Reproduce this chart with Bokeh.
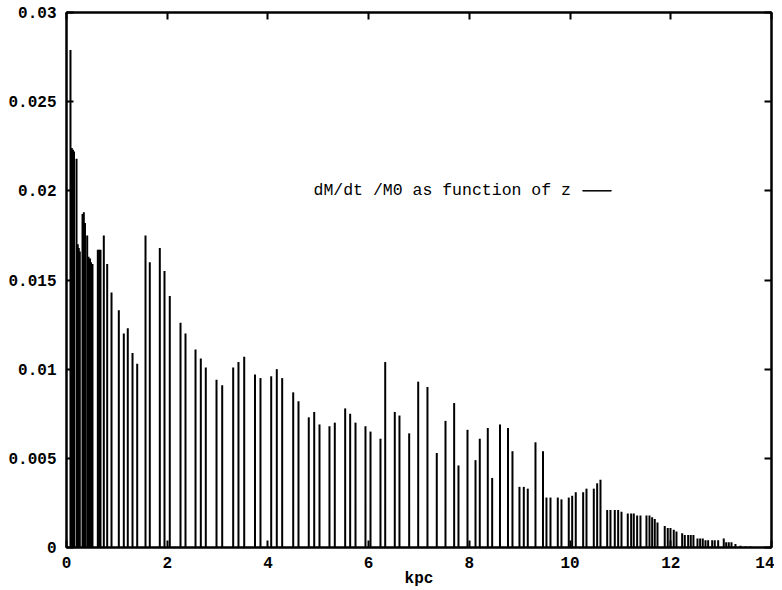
from bokeh.plotting import figure
from bokeh.models import (Range1d, FixedTicker, LinearAxis, CustomJSTickFormatter,
                          CustomLabelingPolicy, Label, BoxAnnotation, ColumnDataSource)
from bokeh.embed import file_html
from bokeh.resources import INLINE

# ---- data ----
kpc = [0.079, 0.105, 0.129, 0.149, 0.199, 0.224, 0.244, 0.264, 0.318, 0.344,
       0.367, 0.411, 0.437, 0.467, 0.487, 0.516, 0.622, 0.649, 0.675, 0.741,
       0.808, 0.894, 1.039, 1.138, 1.217, 1.311, 1.404, 1.569, 1.654, 1.853,
       1.946, 2.051, 2.264, 2.363, 2.562, 2.667, 2.766, 2.979, 3.092, 3.310,
       3.415, 3.529, 3.743, 3.852, 4.065, 4.176, 4.283, 4.502, 4.607, 4.811,
       4.919, 5.024, 5.222, 5.328, 5.534, 5.633, 5.739, 5.937, 6.037, 6.235,
       6.329, 6.519, 6.612, 6.805, 6.984, 7.168, 7.353, 7.526, 7.698, 7.784,
       7.963, 8.122, 8.207, 8.366, 8.453, 8.608, 8.767, 8.856, 8.995, 9.081,
       9.160, 9.313, 9.462, 9.531, 9.611, 9.756, 9.829, 9.974, 10.042, 10.113,
       10.260, 10.326, 10.471, 10.538, 10.604, 10.737, 10.802, 10.888, 10.955, 11.021,
       11.146, 11.213, 11.265, 11.332, 11.398, 11.517, 11.577, 11.630, 11.682, 11.736,
       11.880, 11.940, 11.994, 12.059, 12.113, 12.226, 12.278, 12.345, 12.397, 12.450,
       12.530, 12.583, 12.635, 12.689, 12.742, 12.822, 12.873, 12.941, 13.052, 13.100,
       13.151, 13.205, 13.284, 13.384, 13.483, 13.582, 13.681]

dmdt_m0 = [0.0279, 0.0224, 0.0223, 0.0222, 0.0218, 0.0170, 0.0168, 0.0166, 0.0187, 0.0188,
           0.0182, 0.0175, 0.0163, 0.0162, 0.0160, 0.0159, 0.0167, 0.0167, 0.0167, 0.0175,
           0.0159, 0.0143, 0.0133, 0.0120, 0.0123, 0.0109, 0.0103, 0.0175, 0.0160, 0.0168,
           0.0155, 0.0141, 0.0126, 0.0120, 0.0111, 0.0106, 0.0101, 0.0094, 0.0091, 0.0101,
           0.0104, 0.0107, 0.0097, 0.0095, 0.0096, 0.0100, 0.0095, 0.0087, 0.0082, 0.0073,
           0.0076, 0.0069, 0.0068, 0.0070, 0.0078, 0.0075, 0.0070, 0.0068, 0.0065, 0.0061,
           0.0104, 0.0076, 0.0074, 0.0064, 0.0093, 0.0090, 0.0053, 0.0071, 0.0081, 0.0046,
           0.0066, 0.0049, 0.0061, 0.0067, 0.0039, 0.0069, 0.0067, 0.0054, 0.0034, 0.0034,
           0.0033, 0.0059, 0.0054, 0.0028, 0.0028, 0.0028, 0.0027, 0.0028, 0.0029, 0.0031,
           0.0031, 0.0033, 0.0033, 0.0036, 0.0038, 0.0021, 0.0021, 0.0021, 0.0021, 0.0020,
           0.0019, 0.0019, 0.0019, 0.0018, 0.0018, 0.0018, 0.0018, 0.0017, 0.0016, 0.0014,
           0.0012, 0.0011, 0.0011, 0.0010, 0.0009, 0.0008, 0.0007, 0.0007, 0.0007, 0.0007,
           0.0005, 0.0005, 0.0005, 0.0004, 0.0004, 0.0004, 0.0004, 0.0004, 0.0005, 0.0003,
           0.0003, 0.0003, 0.0002, 0.0001, 0.00005, 0.00005, 0.00003]

x_ticks = [0, 2, 4, 6, 8, 10, 12, 14]
y_ticks = [0, 0.005, 0.01, 0.015, 0.02, 0.025, 0.03]
x_label = "kpc"
legend_text = "dM/dt /M0 as function of z"

FONT = "Liberation Mono"

p = figure(width=774, height=590, output_backend="svg", toolbar_location=None,
           x_range=Range1d(0, 14), y_range=Range1d(0, 0.03),
           min_border_left=66, min_border_right=3, min_border_top=12,
           min_border_bottom=43, x_axis_label=x_label)
p.grid.visible = False
p.outline_line_color = "black"
p.outline_line_width = 2
p.background_fill_color = "white"
p.border_fill_color = "white"

src = ColumnDataSource(dict(x=kpc, y=dmdt_m0, y0=[0] * len(kpc)))
p.segment(x0="x", y0="y0", x1="x", y1="y", source=src,
          line_color="black", line_width=2)

fmt = CustomJSTickFormatter(code="""
let s = tick.toFixed(3);
s = s.replace(/0+$/, '').replace(/\\.$/, '');
return s;
""")
no_labels = CustomLabelingPolicy(code="return new Set()")
blank_fmt = CustomJSTickFormatter(code="return ''")

def style(ax, ticks, show_labels):
    ax.ticker = FixedTicker(ticks=ticks)
    ax.axis_line_color = "black"
    ax.axis_line_width = 2
    ax.major_tick_in = 7
    ax.major_tick_out = 0
    ax.major_tick_line_width = 2
    ax.minor_tick_line_color = None
    if show_labels:
        ax.major_label_text_font = FONT
        ax.major_label_text_font_style = "bold"
        ax.major_label_text_font_size = "16px"
        ax.major_label_text_color = "black"
    else:
        ax.formatter = blank_fmt
        ax.major_label_policy = no_labels
        ax.major_label_text_font_size = "0px"
        ax.major_label_standoff = 0

xa = p.xaxis[0]
ya = p.yaxis[0]
style(xa, x_ticks, True)
style(ya, y_ticks, True)
xa.formatter = fmt
ya.formatter = fmt
xa.major_label_standoff = 9
ya.major_label_standoff = 10
xa.axis_label_text_font = FONT
xa.axis_label_text_font_style = "bold"
xa.axis_label_text_font_size = "16px"
xa.axis_label_text_color = "black"
xa.axis_label_standoff = -1

top = LinearAxis()
style(top, x_ticks, False)
p.add_layout(top, "above")
right = LinearAxis()
style(right, y_ticks, False)
p.add_layout(right, "right")

# legend (gnuplot style: text, then line sample to its right)
leg_y = 0.0200
p.add_layout(Label(x=4.905, y=leg_y, text=legend_text, text_font=FONT,
                   text_font_size="16.5px", text_baseline="middle", text_color="black"))
p.add_layout(BoxAnnotation(left=10.25, right=10.82, bottom=leg_y - 0.00001,
                           top=leg_y + 0.00001, fill_color="black", fill_alpha=1,
                           line_color="black", line_width=1, line_alpha=1))

open("out.html", "w").write(file_html(p, INLINE))
